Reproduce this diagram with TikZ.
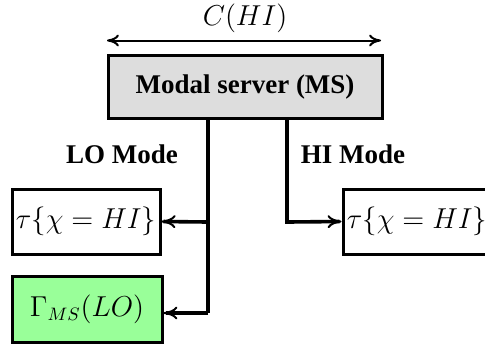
\documentclass[tikz,border=0pt]{standalone}
\usepackage{fontspec}
\setmainfont{Liberation Serif}
\usetikzlibrary{arrows.meta}
\definecolor{msgray}{RGB}{221,221,221}
\definecolor{lgreen}{RGB}{153,255,153}
\begin{document}
\begin{tikzpicture}[x=0.5pt,y=-0.5pt,
  box/.style={draw,line width=1.5pt,rectangle,inner sep=0pt,font=\fontsize{13.5}{16}\selectfont},
  lbl/.style={font=\fontsize{13.5}{16}\selectfont\bfseries},
  conn/.style={line width=1.8pt},
  tip/.style={-{To[length=7pt,width=6.5pt,line width=1pt]}}]
\useasboundingbox (0,0) rectangle (485,345);
\node[box,fill=msgray,minimum width=137pt,minimum height=31.5pt,font=\fontsize{13.5}{16}\selectfont\bfseries] (ms) at (245,86.5) {Modal server (MS)};
\coordinate (cl) at (107,40.5);
\coordinate (cr) at (381,40.5);
\draw[line width=1pt,{To[length=6pt,width=6pt]}-{To[length=6pt,width=6pt]}] (cl) -- (cr);
\node[font=\fontsize{13.5}{16}\selectfont] (chi) at (245,18) {$C(HI)$};
\node[lbl] (lo) at (122,154) {LO Mode};
\node[lbl] (hi) at (353,154) {HI Mode};
\node[box,fill=white,minimum width=74pt,minimum height=32.5pt] (tl) at (86,221.5) {$\tau\{\chi=HI\}$};
\node[box,fill=white,minimum width=74pt,minimum height=32.5pt] (tr) at (417,221.5) {$\tau\{\chi=HI\}$};
\node[box,fill=lgreen,minimum width=75pt,minimum height=33pt] (g) at (87,309) {$\Gamma_{MS}(LO)$};
\coordinate (a0) at (208,118);
\coordinate (a1) at (208,222);
\coordinate (a2) at (208,313);
\coordinate (b0) at (287,118);
\coordinate (b1) at (287,222);
\draw[conn,line width=2pt] (a0) -- (a2);
\draw[conn,tip] (a1) -- (tl.east);
\draw[conn,tip] (a2) -- (a2 -| g.east);
\draw[conn,tip] (b0) -- (b1) -- (tr.west);
\end{tikzpicture}
\end{document}
